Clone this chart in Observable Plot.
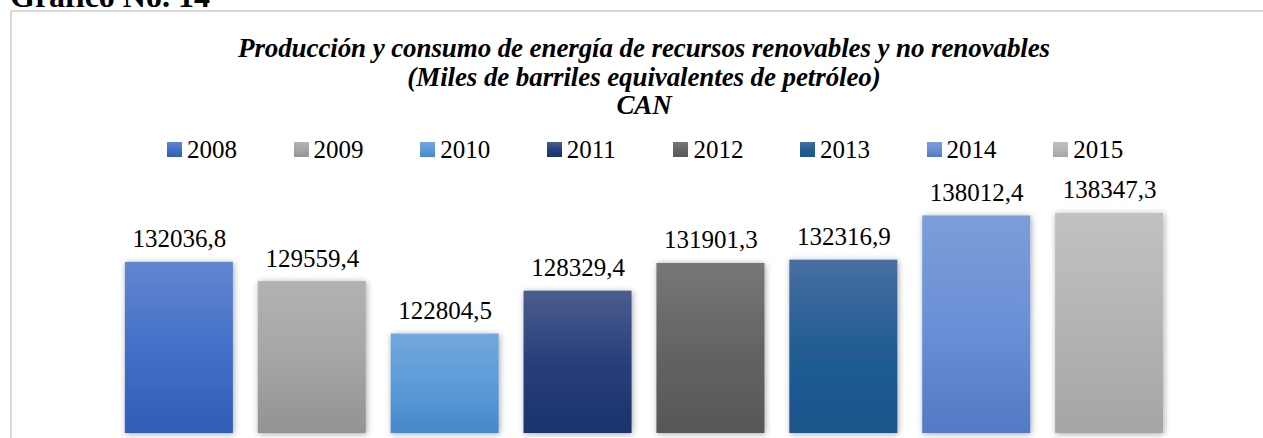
<!DOCTYPE html>
<html><head><meta charset="utf-8">
<script src="https://cdn.jsdelivr.net/npm/d3@7"></script>
<script src="https://cdn.jsdelivr.net/npm/@observablehq/plot@0.6"></script>
<style>
body{margin:0;background:#fff;width:1263px;height:438px;overflow:hidden;position:relative;font-family:"Liberation Serif","Times New Roman",serif;color:#000}
#frame{position:absolute;left:10px;top:10px;width:1260px;height:500px;border-top:2px solid #d9d9d9;border-left:2px solid #d9d9d9;box-sizing:border-box}
#heading{position:absolute;left:10px;top:-20px;font-size:32px;font-weight:bold;line-height:32px;white-space:nowrap}
#title{position:absolute;left:144px;width:1000px;top:34px;text-align:center;font-weight:bold;font-style:italic;font-size:27px;line-height:28.5px;letter-spacing:-0.1px}
#legend{position:absolute;left:167px;top:137px;display:flex}
.item{width:126.6px;display:flex;align-items:center;font-size:25px;line-height:25px;white-space:nowrap}
.sw{width:15px;height:15px;margin-right:5px;flex:none}
#chart{position:absolute;left:0;top:165px}
</style></head><body>
<div id="frame"></div>
<div id="heading">Gráfico No. 14</div>
<div id="title"></div>
<div id="legend"></div>
<div id="chart"></div>
<script>
const titleLines = [
  "Producción y consumo de energía de recursos renovables y no renovables",
  "(Miles de barriles equivalentes de petróleo)",
  "CAN"
];
const years = ["2008", "2009", "2010", "2011", "2012", "2013", "2014", "2015"];
const values = [132036.8, 129559.4, 122804.5, 128329.4, 131901.3, 132316.9, 138012.4, 138347.3];
const valueLabels = ["132036,8", "129559,4", "122804,5", "128329,4", "131901,3", "132316,9", "138012,4", "138347,3"];
const gradTop = ["#6386cf", "#b2b2b2", "#73a8dd", "#4b5d8d", "#777777", "#486fa0", "#7c9dd7", "#c1c1c1"];
const gradMid = ["#4470c8", "#a6a6a6", "#5c9bd8", "#283f7c", "#646464", "#215d94", "#6a90d7", "#b4b4b4"];
const gradBot = ["#2f5db7", "#939393", "#4689c9", "#1a336b", "#575757", "#1a558c", "#5379c4", "#a5a5a5"];
const yMin = 110000, yMax = 140000;

document.getElementById("title").innerHTML = titleLines.map(t => `<div>${t}</div>`).join("");
document.getElementById("legend").innerHTML = years.map((y, i) =>
  `<div class="item"><span class="sw" style="background:linear-gradient(${gradTop[i]},${gradMid[i]},${gradBot[i]})"></span>${y}</div>`).join("");

const data = years.map((year, i) => ({year, value: values[i], label: valueLabels[i]}));

const plot = Plot.plot({
  width: 1263,
  height: 273,
  marginLeft: 100,
  marginRight: 75,
  marginTop: 35,
  marginBottom: 5,
  x: {domain: years, padding: 0.187, round: false, axis: null},
  y: {domain: [yMin, yMax], axis: null},
  color: {domain: years, range: years.map(y => `url(#g${y})`)},
  style: {fontFamily: "Liberation Serif, Times New Roman, serif", background: "transparent", overflow: "visible"},
  marks: [
    Plot.barY(data, {x: "year", y1: () => yMin, y2: "value", fill: "year"}),
    Plot.text(data, {x: "year", y: "value", text: "label", lineAnchor: "bottom", dy: -15, fontSize: 25, fill: "#000"})
  ]
});
document.getElementById("chart").append(plot);

const svg = d3.select(plot);
const defs = svg.insert("defs", ":first-child");
years.forEach((y, i) => {
  const g = defs.append("linearGradient").attr("id", "g" + y).attr("x1", 0).attr("x2", 0).attr("y1", 0).attr("y2", 1);
  g.append("stop").attr("offset", "0%").attr("stop-color", gradTop[i]);
  g.append("stop").attr("offset", "50%").attr("stop-color", gradMid[i]);
  g.append("stop").attr("offset", "100%").attr("stop-color", gradBot[i]);
});
const f = defs.append("filter").attr("id", "sh").attr("x", "-20%").attr("y", "-20%").attr("width", "140%").attr("height", "140%");
f.append("feDropShadow").attr("dx", 1).attr("dy", 1).attr("stdDeviation", 3).attr("flood-color", "#000").attr("flood-opacity", 0.35);
svg.selectAll("g[aria-label='bar'] rect").attr("filter", "url(#sh)");
</script>
</body></html>
